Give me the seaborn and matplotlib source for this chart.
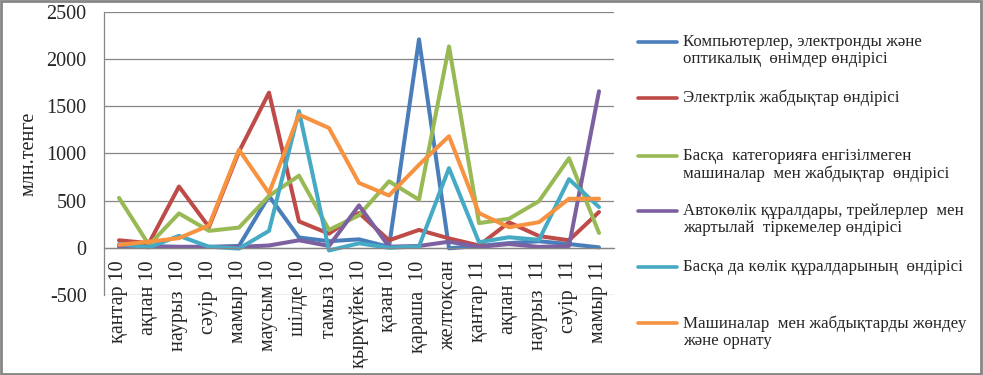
import numpy as np
import pandas as pd
import matplotlib.pyplot as plt
import seaborn as sns
from matplotlib.lines import Line2D
from matplotlib.patches import Rectangle

months = ["қантар 10", "ақпан 10", "наурыз  10", "сәуір  10", "мамыр 10",
          "маусым 10", "шілде 10", "тамыз 10", "қыркүйек 10", "қазан 10",
          "қараша  10", "желтоқсан", "қантар 11", "ақпан 11", "наурыз  11",
          "сәуір  11", "мамыр 11"]

series_names = [
    "Компьютерлер, электронды және\nоптикалық  өнімдер өндірісі",
    "Электрлік жабдықтар өндірісі",
    "Басқа  категорияға енгізілмеген\nмашиналар  мен жабдықтар  өндірісі",
    "Автокөлік құралдары, трейлерлер  мен\nжартылай  тіркемелер өндірісі",
    "Басқа да көлік құралдарының  өндірісі",
    "Машиналар  мен жабдықтарды жөндеу\nжәне орнату",
]

computers = [30, 20, 10, 10, 20, 550, 110, 70, 90, 10, 2210, -5, 20, 50, 70, 40, 5]
electrical = [80, 50, 650, 220, 1020, 1645, 280, 150, 370, 80, 190, 100, 25, 270, 125, 80, 380]
other_machinery = [530, 30, 365, 180, 215, 550, 765, 190, 345, 705, 510, 2135, 262, 308, 495, 950, 158]
vehicles = [10, 10, 10, 10, 10, 25, 80, 20, 450, 12, 20, 65, 10, 40, 10, 20, 1660]
other_transport = [40, 5, 127, 12, -8, 180, 1450, -28, 48, 0, 15, 845, 60, 112, 85, 728, 432]
repair = [32, 65, 103, 237, 1040, 580, 1412, 1270, 688, 555, 880, 1183, 368, 218, 272, 520, 520]

colors = ["#4A7EBB", "#BE4B48", "#98B954", "#7D60A0", "#46AAC5", "#F69240"]

values = [computers, electrical, other_machinery, vehicles, other_transport, repair]
df = pd.DataFrame({name: vals for name, vals in zip(series_names, values)})
df["x"] = np.arange(len(months))
long_df = df.melt(id_vars="x", var_name="series", value_name="value")

sns.set_style("white")
plt.rcParams["font.family"] = ["Liberation Serif", "DejaVu Serif"]
plt.rcParams["axes.unicode_minus"] = False

fig = plt.figure(figsize=(9.83, 3.75), dpi=100)
ax = fig.add_axes([104 / 983, 80 / 375, 510 / 983, 283 / 375])

sns.lineplot(data=long_df, x="x", y="value", hue="series", palette=colors,
             hue_order=series_names, linewidth=2.9, sort=False, legend=False, ax=ax)

grid_c = "#868686"
ax.set_xlim(-0.5, len(months) - 0.5)
ax.set_ylim(-500, 2500)
ax.set_yticks(np.arange(-500, 2501, 500))
ax.yaxis.grid(True, color=grid_c, lw=0.9)
ax.set_axisbelow(True)

ax.set_xticks(np.arange(len(months)))
ax.set_xticklabels(months)
ax.set_xticks(np.arange(-0.5, len(months), 1), minor=True)
ax.tick_params(axis="x", which="major", length=0, pad=9, labelsize=14.5,
               labelrotation=90)
ax.tick_params(axis="x", which="minor", length=4, color=grid_c, width=0.9, direction="out")
ax.tick_params(axis="y", length=4.5, color=grid_c, width=0.9, pad=8, labelsize=14.5)

for s in ["top", "right"]:
    ax.spines[s].set_visible(False)
ax.spines["left"].set_color(grid_c)
ax.spines["left"].set_linewidth(0.9)
ax.spines["bottom"].set_position(("data", 0))
ax.spines["bottom"].set_color(grid_c)
ax.spines["bottom"].set_linewidth(0.9)

ax.set_xlabel("")
ax.set_ylabel("млн.тенге", fontsize=14.5)
ax.yaxis.set_label_coords(-0.128, 0.5)

# legend drawn by hand to keep Excel-like spacing
cap_tops = [38, 94, 152, 207, 263, 319]
for name, col, top in zip(series_names, colors, cap_tops):
    yh = 1 - (top + 4) / 375
    fig.add_artist(Line2D([638 / 983, 677 / 983], [yh, yh], color=col, lw=2.6,
                          solid_capstyle="round", transform=fig.transFigure))
    fig.text(683 / 983, 1 - (top - 4) / 375, name, fontsize=12.2, va="top",
             ha="left", linespacing=1.12)

fig.add_artist(Rectangle((0.001, 0.002), 0.997, 0.995, transform=fig.transFigure,
                         fill=False, edgecolor="#868686", lw=2))

fig.savefig("out.png", dpi=100)
